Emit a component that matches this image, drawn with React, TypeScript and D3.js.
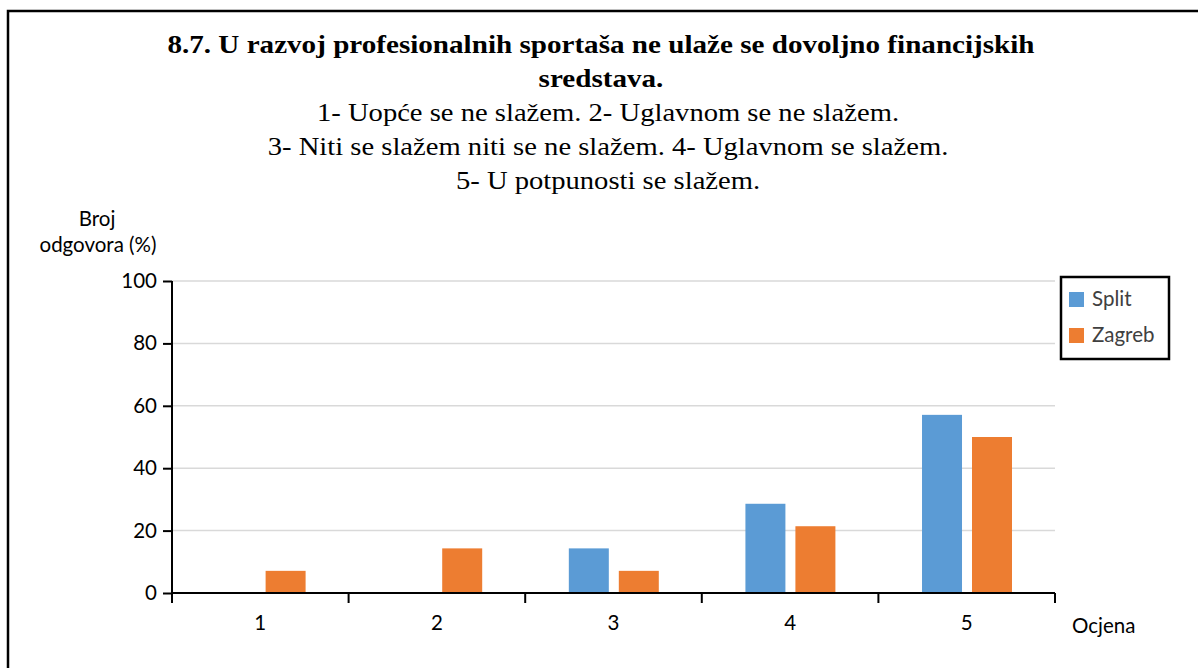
import React, { useEffect, useRef } from 'react';
import * as d3 from 'd3';

const categories = ['1', '2', '3', '4', '5'];
const seriesNames = ['Split', 'Zagreb'];
const splitValues = [0, 0, 14.3, 28.6, 57.1];
const zagrebValues = [7.1, 14.3, 7.1, 21.4, 50];
const yTicks = [0, 20, 40, 60, 80, 100];
const colors = ['#5b9bd5', '#ed7d31'];

const titleLines = [
  '8.7. U razvoj profesionalnih sportaša ne ulaže se dovoljno financijskih',
  'sredstava.',
];
const subtitleLines = [
  '1- Uopće se ne slažem. 2- Uglavnom se ne slažem.',
  '3- Niti se slažem niti se ne slažem. 4- Uglavnom se slažem.',
  '5- U potpunosti se slažem.',
];

export default function App() {
  const svgRef = useRef<SVGSVGElement>(null);
  const width = 1198;
  const height = 668;
  const left = 172, right = 1055, top = 281, bottom = 593;
  const sansFont = 'Lato, "Open Sans", sans-serif';
  const serifFont = '"Liberation Serif", "Times New Roman", serif';
  const fs = 20.5;

  useEffect(() => {
    const svg = d3.select(svgRef.current);
    svg.selectAll('*').remove();

    // outer frame
    svg.append('path')
      .attr('d', `M8,${height} L8,11 L${width},11`)
      .attr('fill', 'none')
      .attr('stroke', '#000')
      .attr('stroke-width', 2.5);

    // titles (source picture is a bit stretched sideways)
    titleLines.forEach((t, i) => {
      svg.append('text')
        .attr('transform', `translate(601,${53 + i * 34}) scale(1.12,1)`)
        .attr('text-anchor', 'middle')
        .attr('font-family', serifFont)
        .attr('font-weight', 'bold')
        .attr('font-size', 26)
        .text(t);
    });
    subtitleLines.forEach((t, i) => {
      svg.append('text')
        .attr('transform', `translate(608,${121 + i * 34}) scale(1.1,1)`)
        .attr('text-anchor', 'middle')
        .attr('font-family', serifFont)
        .attr('font-size', 26)
        .text(t);
    });

    const x = d3.scaleBand().domain(categories).range([left, right]);
    const x1 = d3.scaleBand().domain(seriesNames)
      .range([x.bandwidth() * 0.247, x.bandwidth() * 0.7565]).paddingInner(0.2);
    const y = d3.scaleLinear().domain([0, 100]).range([bottom, top]);

    // gridlines
    svg.append('g')
      .selectAll('line')
      .data(yTicks.filter(d => d > 0))
      .enter().append('line')
      .attr('x1', left).attr('x2', right)
      .attr('y1', d => y(d)).attr('y2', d => y(d))
      .attr('stroke', '#d9d9d9')
      .attr('stroke-width', 1.5);

    // bars
    const data = [splitValues, zagrebValues];
    data.forEach((vals, s) => {
      svg.append('g')
        .selectAll('rect')
        .data(vals)
        .enter().append('rect')
        .attr('x', (d, i) => (x(categories[i]) as number) + (x1(seriesNames[s]) as number))
        .attr('y', d => y(d))
        .attr('width', x1.bandwidth())
        .attr('height', d => bottom - y(d))
        .attr('fill', colors[s]);
    });

    // y axis
    const yAxis = d3.axisLeft(y).tickValues(yTicks).tickSize(9).tickPadding(6);
    const gy = svg.append('g').attr('transform', `translate(${left},0)`).call(yAxis);
    gy.select('.domain').attr('stroke', '#000').attr('stroke-width', 2).attr('d', `M0,${top}V${bottom}`);
    gy.selectAll('.tick line').attr('stroke', '#000').attr('stroke-width', 2);
    gy.selectAll('.tick text')
      .attr('font-family', sansFont)
      .attr('font-size', fs)
      .attr('fill', '#000');

    // x axis
    const xAxis = d3.axisBottom(x).tickSize(0).tickPadding(22);
    const gx = svg.append('g').attr('transform', `translate(0,${bottom})`).call(xAxis);
    gx.select('.domain').attr('stroke', '#000').attr('stroke-width', 2).attr('d', `M${left},0H${right}`);
    gx.selectAll('.tick text')
      .attr('font-family', sansFont)
      .attr('font-size', fs)
      .attr('fill', '#000');
    gx.append('g')
      .selectAll('line')
      .data([...categories.map(c => x(c) as number), right])
      .enter().append('line')
      .attr('x1', d => d).attr('x2', d => d)
      .attr('y1', 0).attr('y2', 10)
      .attr('stroke', '#000')
      .attr('stroke-width', 2);

    // axis titles
    svg.append('text')
      .attr('x', 97).attr('y', 226)
      .attr('text-anchor', 'middle')
      .attr('font-family', sansFont).attr('font-size', fs)
      .text('Broj');
    svg.append('text')
      .attr('x', 98).attr('y', 252)
      .attr('text-anchor', 'middle')
      .attr('font-family', sansFont).attr('font-size', fs)
      .text('odgovora (%)');
    svg.append('text')
      .attr('x', 1072).attr('y', 633)
      .attr('font-family', sansFont).attr('font-size', fs)
      .text('Ocjena');

    // legend
    const lg = svg.append('g');
    lg.append('rect')
      .attr('x', 1061).attr('y', 277)
      .attr('width', 108).attr('height', 82)
      .attr('fill', '#fff')
      .attr('stroke', '#000')
      .attr('stroke-width', 2.5);
    seriesNames.forEach((n, i) => {
      lg.append('rect')
        .attr('x', 1069).attr('y', 292 + i * 36)
        .attr('width', 15).attr('height', 15)
        .attr('fill', colors[i]);
      lg.append('text')
        .attr('x', 1092).attr('y', 306 + i * 36)
        .attr('font-family', sansFont).attr('font-size', fs)
        .attr('fill', '#404040')
        .text(n);
    });
  }, []);

  return (
    <svg
      ref={svgRef}
      width={width}
      height={height}
      style={{ position: 'absolute', left: 0, top: 0, background: '#fff' }}
    ></svg>
  );
}
